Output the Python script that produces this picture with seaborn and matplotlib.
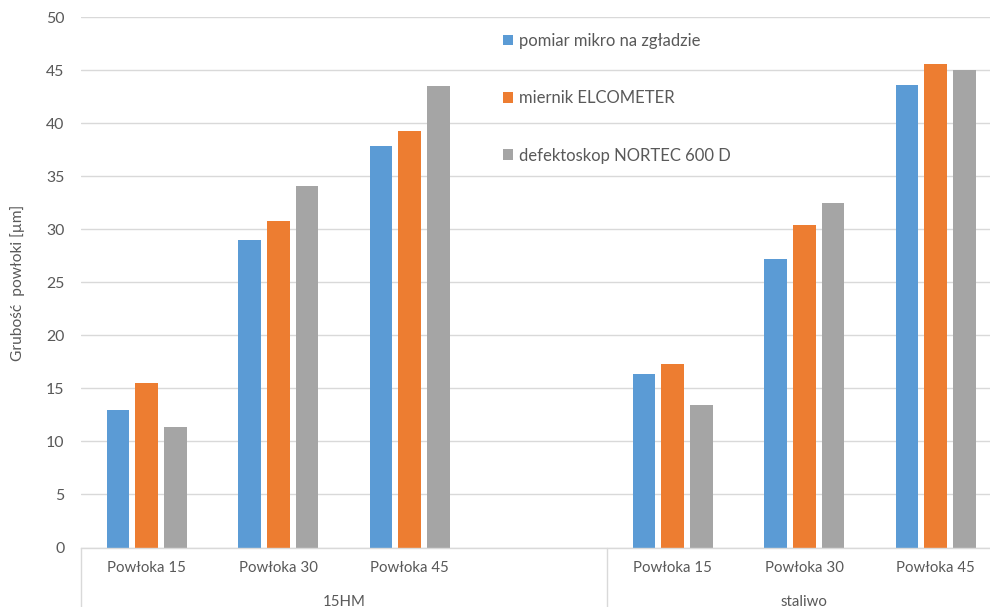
import matplotlib
matplotlib.use("Agg")
import matplotlib.pyplot as plt
import matplotlib.transforms as mtransforms
from matplotlib.patches import Patch
import pandas as pd
import seaborn as sns

# --- data -------------------------------------------------------------
materials = ["15HM", "staliwo"]
coatings = ["Powłoka 15", "Powłoka 30", "Powłoka 45"]
methods = ["pomiar mikro na zgładzie", "miernik ELCOMETER", "defektoskop NORTEC 600 D"]

micro_15hm = [13.0, 29.0, 37.9]
elcometer_15hm = [15.5, 30.8, 39.3]
nortec_15hm = [11.4, 34.1, 43.5]

micro_staliwo = [16.4, 27.2, 43.65]
elcometer_staliwo = [17.3, 30.4, 45.6]
nortec_staliwo = [13.4, 32.5, 45.0]

y_ticks = [0, 5, 10, 15, 20, 25, 30, 35, 40, 45, 50]
y_label = "Grubość  powłoki [µm]"

colors = ["#5B9BD5", "#ED7D31", "#A5A5A5"]
text_color = "#595959"
grid_color = "#D9D9D9"

# --- long table --------------------------------------------------------
series = {
    "15HM": [micro_15hm, elcometer_15hm, nortec_15hm],
    "staliwo": [micro_staliwo, elcometer_staliwo, nortec_staliwo],
}
rows = []
for mat in materials:
    for m_idx, method in enumerate(methods):
        for c_idx, coat in enumerate(coatings):
            rows.append({"slot": f"{mat}|{coat}", "method": method,
                         "value": series[mat][m_idx][c_idx]})
df = pd.DataFrame(rows)

# 15HM has an extra empty slot before the staliwo block
order = [f"15HM|{c}" for c in coatings] + ["15HM|"] + [f"staliwo|{c}" for c in coatings]
slot_labels = [k.split("|")[1] for k in order]

# --- figure ------------------------------------------------------------
sns.set_theme(style="white")
plt.rcParams["font.family"] = ["Lato", "DejaVu Sans"]

W, H = 990, 607
fig = plt.figure(figsize=(W / 100, H / 100), dpi=100)
ax_left, ax_right = 81, 1001.5
ax_top, ax_bottom = 17.3, 547.5
ax = fig.add_axes([ax_left / W, 1 - ax_bottom / H,
                   (ax_right - ax_left) / W, (ax_bottom - ax_top) / H])

sns.barplot(data=df, x="slot", y="value", hue="method", order=order,
            hue_order=methods, palette=colors, width=0.655, gap=0.206,
            linewidth=0, saturation=1, errorbar=None, legend=False, ax=ax)

ax.set_xlim(-0.5, len(order) - 0.5)
ax.set_ylim(0, 50)
ax.set_yticks(y_ticks)
ax.set_yticklabels([str(t) for t in y_ticks])
ax.yaxis.grid(True, color=grid_color, linewidth=1.0)
ax.set_axisbelow(True)
for side in ["top", "right", "left"]:
    ax.spines[side].set_visible(False)
ax.spines["bottom"].set_color(grid_color)
ax.spines["bottom"].set_linewidth(1.0)

ax.tick_params(axis="y", length=0, pad=12, labelsize=11.4, labelcolor=text_color)
ax.set_xticks(range(len(order)))
ax.set_xticklabels(slot_labels)
ax.tick_params(axis="x", length=0, pad=10, labelsize=10.8, labelcolor=text_color)
ax.set_xlabel("")
ax.set_ylabel("")

# category group separators and group names
trans = mtransforms.blended_transform_factory(ax.transData, ax.transAxes)
for xpos in [-0.5, 3.5]:
    ax.plot([xpos, xpos], [0, -0.2], transform=trans, color=grid_color,
            linewidth=1.0, clip_on=False)
group_spans = {"15HM": (-0.5, 3.5), "staliwo": (3.5, 6.5)}
for name, (a, b) in group_spans.items():
    ax.text((a + b) / 2, -54.2 / (ax_bottom - ax_top), name, transform=trans,
            ha="center", va="center", fontsize=10.8, color=text_color)

fig.text(18 / W, 1 - 283 / H, y_label, rotation=90, ha="center", va="center",
         fontsize=11.2, color=text_color)

# legend
handles = [Patch(facecolor=c, edgecolor="none") for c in colors]
leg = ax.legend(handles, methods, loc="upper left",
                bbox_to_anchor=(503 / W, 1 - 33 / H), bbox_transform=fig.transFigure,
                frameon=False, fontsize=12, labelcolor=text_color,
                handlelength=0.6, handleheight=0.6, handletextpad=0.35,
                labelspacing=2.48, borderpad=0, borderaxespad=0)

fig.savefig("out.png", dpi=100)
